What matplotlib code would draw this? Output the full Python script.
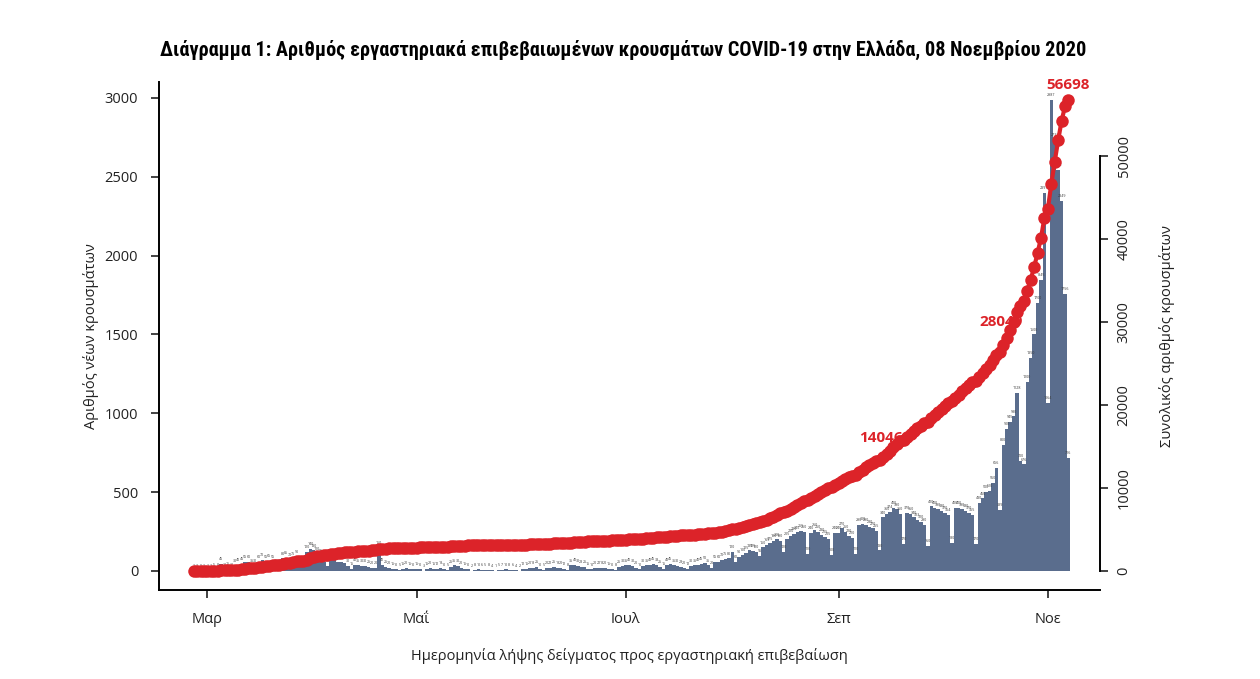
import numpy as np
import pandas as pd
import matplotlib
matplotlib.use("Agg")
from matplotlib import pyplot as plt
from matplotlib import font_manager
import matplotlib.dates as mdates

# daily new cases by sample date, 26 Feb - 7 Nov 2020
feb = [1, 2, 0, 1]
mar = [1, 2, 5, 8, 45, 10, 15,
       10, 30, 40, 45, 55, 60, 35,
       30, 60, 70, 55, 65, 55, 35,
       30, 80, 85, 70, 75, 90, 45,
       40, 120, 140]
apr = [130, 110, 95, 60,
       30, 75, 70, 60, 55, 50, 30,
       15, 40, 35, 30, 30, 25, 20,
       20, 150, 40, 25, 20, 15, 10,
       5, 15, 20, 15, 10]
may = [15, 10,
       3, 15, 20, 15, 12, 18, 10,
       5, 25, 35, 30, 20, 15, 10,
       2, 8, 10, 6, 5, 8, 4,
       1, 5, 7, 10, 8, 6, 4,
       2]
jun = [12, 15, 20, 18, 25, 10,
       5, 20, 22, 25, 18, 20, 12,
       8, 35, 40, 30, 28, 25, 15,
       10, 20, 22, 18, 20, 15, 10,
       8, 25, 30]
jul = [35, 40, 30, 20,
       10, 30, 35, 40, 45, 38, 25,
       15, 40, 45, 35, 30, 28, 20,
       12, 30, 35, 40, 45, 50, 35,
       20, 55, 60, 70, 75, 80]
aug = [120,
       60, 90, 100, 115, 130, 125, 120,
       95, 150, 165, 175, 190, 200, 190,
       120, 205, 220, 235, 245, 255, 250,
       110, 240, 260, 250, 230, 215, 205,
       100, 240]
sep = [240, 270, 250, 220, 210,
       110, 290, 300, 290, 280, 270, 255,
       130, 340, 360, 374, 400, 390, 360,
       170, 370, 360, 340, 323, 310, 290,
       160, 410, 400, 390]
octo = [380, 370, 354,
        180, 400, 400, 390, 380, 370, 355,
        170, 430, 460, 500, 510, 560, 656,
        389, 800, 900, 945, 980, 1128, 700,
        676, 1200, 1350, 1500, 1700, 1845, 2397]
nov = [1064, 2987, 2733, 2543, 2349, 1756, 716]

start_date = "2020-02-26"
month_ticks = ["2020-03-01", "2020-05-01", "2020-07-01", "2020-09-01", "2020-11-01"]
month_labels = ["Μαρ", "Μαΐ", "Ιουλ", "Σεπ", "Νοε"]
marked_totals = [14046, 28049, 56698]

title = ("Διάγραμμα 1: Αριθμός εργαστηριακά επιβεβαιωμένων κρουσμάτων "
         "COVID-19 στην Ελλάδα, 08 Νοεμβρίου 2020")
xlabel = "Ημερομηνία λήψης δείγματος προς εργαστηριακή επιβεβαίωση"
ylabel_left = "Αριθμός νέων κρουσμάτων"
ylabel_right = "Συνολικός αριθμός κρουσμάτων"

daily = np.array(feb + mar + apr + may + jun + jul + aug + sep + octo + nov)
total = np.cumsum(daily)
dates = pd.date_range(start_date, periods=len(daily), freq="D")
x = mdates.date2num(dates)

names = {f.name for f in font_manager.fontManager.ttflist}
title_font = "DejaVu Sans"
for cand in ["Liberation Sans Narrow", "Roboto Condensed", "Open Sans Condensed", "Lato", "Roboto"]:
    if cand in names:
        title_font = cand
        break
body = "Open Sans" if "Open Sans" in names else "DejaVu Sans"
plt.rcParams["font.family"] = [body, "DejaVu Sans"]

bar_col = "#5a6d8d"
red = "#dc2329"
ink = "#222222"

fig = plt.figure(figsize=(12.6, 6.79), dpi=100)
fig.patch.set_facecolor("white")
ax = fig.add_axes([159 / 1260, 1 - 590 / 679, (1100 - 159) / 1260, (590 - 82) / 679])

ax.bar(x, daily, width=1.0, color=bar_col, linewidth=0, align="center", zorder=2)
for xi, v in zip(x, daily):
    ax.text(xi, v + 18, str(v), fontsize=2.6, ha="center", va="bottom",
            color="#3a3a3a", zorder=3)

mar1 = mdates.date2num(pd.Timestamp("2020-03-01"))
ax.set_xlim(mar1 - 14.1, mar1 + 260.2)
ax.set_ylim(-120.5, 3101)
ax.set_yticks([0, 500, 1000, 1500, 2000, 2500, 3000])
ax.set_xticks(mdates.date2num(pd.to_datetime(month_ticks)))
ax.set_xticklabels(month_labels)
for s in ["top", "right"]:
    ax.spines[s].set_visible(False)
ax.spines["left"].set_linewidth(1.4)
ax.spines["bottom"].set_linewidth(1.4)
ax.tick_params(axis="both", length=6, width=1.2, labelsize=10.5, colors=ink)
ax.tick_params(axis="y", pad=9)
ax.tick_params(axis="x", pad=10)
ax.set_xlabel(xlabel, fontsize=10.5, labelpad=15, color=ink)
ax.set_ylabel(ylabel_left, fontsize=10.5, labelpad=4, color=ink)

ax2 = ax.twinx()
ax2.plot(x, total, color=red, lw=3, marker="o", markersize=9,
         markeredgewidth=0, zorder=4)
ax2.set_ylim(-2289, 58915)
ax2.set_yticks([0, 10000, 20000, 30000, 40000, 50000])
for s in ["top", "left", "bottom"]:
    ax2.spines[s].set_visible(False)
ax2.spines["right"].set_bounds(0, 50000)
ax2.spines["right"].set_linewidth(1.4)
ax2.tick_params(axis="y", length=6, width=1.2, labelsize=10.5, colors=ink,
                labelrotation=90, pad=6)
for lab in ax2.get_yticklabels():
    lab.set_va("center")
ax2.set_ylabel(ylabel_right, fontsize=10.5, rotation=90, labelpad=20, color=ink)

for v in marked_totals:
    i = int(np.argmax(total >= v))
    ax2.annotate(str(v), (x[i], total[i]), xytext=(-4 if v < 50000 else 0, 11),
                 textcoords="offset points", ha="center", va="center",
                 color=red, fontsize=11, fontweight="bold", zorder=1)

ttl = fig.text(623 / 1260, 1 - 50 / 679, title, ha="center", va="center",
               fontsize=13, fontweight="bold", family=[title_font, "DejaVu Sans"])
# fit the title to the width it has in the reference
fig.canvas.draw()
w = ttl.get_window_extent().width
ttl.set_fontsize(13 * 923 / w)

fig.savefig("out.png", dpi=100)
